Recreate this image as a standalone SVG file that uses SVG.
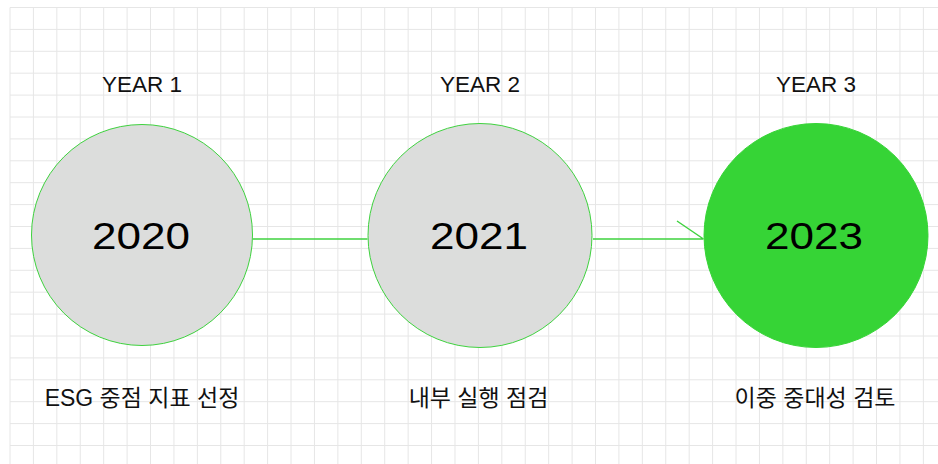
<svg xmlns="http://www.w3.org/2000/svg" width="938" height="464" viewBox="0 0 938 464">
  <style>
    .grid { stroke: #e6e6e6; stroke-width: 1; fill: none; }
    .node { stroke: #3fd23f; stroke-width: 1; }
    .gray { fill: #dcdddc; }
    .green { fill: #36d436; stroke: #36d436; }
    .conn { stroke: #3fd23f; stroke-width: 1.5; fill: none; }
    .year { font-family: "Liberation Sans", Arial, sans-serif; font-size: 22.5px; fill: #111; text-anchor: middle; }
    .num { font-family: "Liberation Sans", Arial, sans-serif; font-size: 37px; fill: #000; text-anchor: middle; }
    .lbl { font-family: "Liberation Sans", "Noto Sans CJK KR", sans-serif; font-size: 23px; fill: #111; text-anchor: middle; }
  </style>
  <rect width="938" height="464" fill="#ffffff"/>
  <g id="grid">
    <path class="grid" d="M10 7.5V464M33.42 7.5V464M56.84 7.5V464M80.26 7.5V464M103.68 7.5V464M127.1 7.5V464M150.52 7.5V464M173.94 7.5V464M197.36 7.5V464M220.78 7.5V464M244.2 7.5V464M267.62 7.5V464M291.04 7.5V464M314.46 7.5V464M337.88 7.5V464M361.3 7.5V464M384.72 7.5V464M408.14 7.5V464M431.56 7.5V464M454.98 7.5V464M478.4 7.5V464M501.82 7.5V464M525.24 7.5V464M548.66 7.5V464M572.08 7.5V464M595.5 7.5V464M618.92 7.5V464M642.34 7.5V464M665.76 7.5V464M689.18 7.5V464M712.6 7.5V464M736.02 7.5V464M759.44 7.5V464M782.86 7.5V464M806.28 7.5V464M829.7 7.5V464M853.12 7.5V464M876.54 7.5V464M899.96 7.5V464M923.38 7.5V464"/>
    <path class="grid" d="M10 7.5H938M10 29.4H938M10 51.3H938M10 73.2H938M10 95.1H938M10 117H938M10 138.9H938M10 160.8H938M10 182.7H938M10 204.6H938M10 226.5H938M10 248.4H938M10 270.3H938M10 292.2H938M10 314.1H938M10 336H938M10 357.9H938M10 379.8H938M10 401.7H938M10 423.6H938M10 445.5H938"/>
  </g>
  <g id="connectors">
    <path class="conn" d="M252.5 239H367.5"/>
    <path class="conn" d="M593 239H703.5M677 221L703.5 239"/>
  </g>
  <g id="node-2020">
    <text class="year" x="142" y="92">YEAR 1</text>
    <circle class="node gray" cx="142" cy="235" r="110.5"/>
    <text class="num" x="141" y="249" textLength="98" lengthAdjust="spacingAndGlyphs">2020</text>
    <text class="lbl" x="142" y="406">ESG 중점 지표 선정</text>
  </g>
  <g id="node-2021">
    <text class="year" x="480" y="92">YEAR 2</text>
    <circle class="node gray" cx="480" cy="235.5" r="112"/>
    <text class="num" x="479" y="249" textLength="98" lengthAdjust="spacingAndGlyphs">2021</text>
    <text class="lbl" x="478.5" y="406">내부 실행 점검</text>
  </g>
  <g id="node-2023">
    <text class="year" x="816" y="92">YEAR 3</text>
    <circle class="green" cx="816" cy="235.5" r="112"/>
    <text class="num" x="814" y="249" textLength="98" lengthAdjust="spacingAndGlyphs">2023</text>
    <text class="lbl" x="815" y="406">이중 중대성 검토</text>
  </g>
</svg>
